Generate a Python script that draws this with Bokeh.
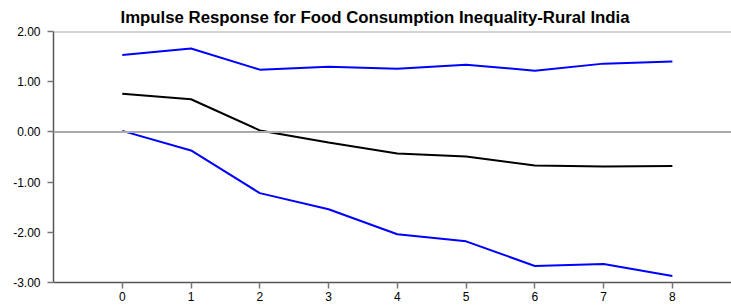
from bokeh.plotting import figure
from bokeh.models import FixedTicker, NumeralTickFormatter, Span, Range1d
from bokeh.embed import file_html
from bokeh.resources import INLINE

periods = [0, 1, 2, 3, 4, 5, 6, 7, 8]
response = [0.76, 0.65, 0.03, -0.21, -0.43, -0.49, -0.67, -0.69, -0.68]
upper = [1.53, 1.66, 1.24, 1.30, 1.26, 1.34, 1.22, 1.36, 1.40]
lower = [0.02, -0.37, -1.22, -1.54, -2.04, -2.18, -2.67, -2.63, -2.87]
y_ticks = [-3, -2, -1, 0, 1, 2]
title_text = "Impulse Response for Food Consumption Inequality-Rural India"

p = figure(width=731, height=305, output_backend="svg", toolbar_location=None,
           x_range=Range1d(-1, 8.86), y_range=Range1d(-3, 2),
           min_border_left=53, min_border_right=0, min_border_bottom=23, min_border_top=0)
p.title.text = title_text
p.title.text_font = "Liberation Sans"
p.title.text_font_size = "16.8px"
p.title.text_font_style = "bold"
p.title.align = "left"
p.title.offset = 67
p.title.text_color = "black"

p.outline_line_color = None
p.xgrid.visible = False
p.ygrid.visible = False

p.line(periods, upper, line_color="#0000ff", line_width=2)
p.line(periods, lower, line_color="#0000ff", line_width=2)
p.line(periods, response, line_color="black", line_width=2)

p.add_layout(Span(location=2, dimension="width", line_color="#aaaaaa", line_width=2))
p.add_layout(Span(location=0, dimension="width", line_color="#aaaaaa", line_width=2))

for ax in (p.xaxis[0], p.yaxis[0]):
    ax.axis_line_color = "#555555"
    ax.axis_line_width = 1.5
    ax.major_tick_line_color = "#777777"
    ax.major_tick_line_width = 1.5
    ax.major_tick_in = 0
    ax.major_tick_out = 6
    ax.minor_tick_line_color = None
    ax.major_label_text_font = "Liberation Sans"
    ax.major_label_text_font_size = "12px"
    ax.major_label_text_color = "black"

p.yaxis[0].ticker = FixedTicker(ticks=y_ticks)
p.yaxis[0].formatter = NumeralTickFormatter(format="0.00")
p.yaxis[0].major_label_standoff = 7
p.xaxis[0].ticker = FixedTicker(ticks=periods)
p.xaxis[0].major_label_standoff = 3

open("out.html", "w").write(file_html(p, INLINE))
